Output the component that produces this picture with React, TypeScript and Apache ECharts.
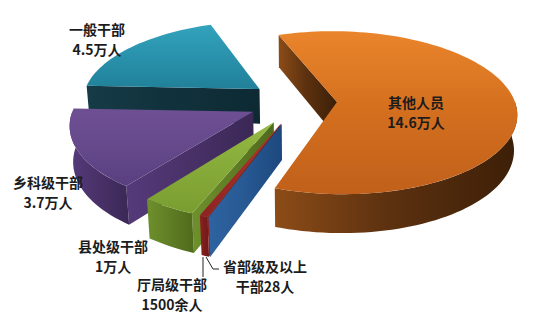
import React, { useEffect, useRef } from 'react';
import * as echarts from 'echarts';

// ---- data ----
const categories = ['其他人员', '省部级及以上干部', '厅局级干部', '县处级干部', '乡科级干部', '一般干部'];
const values = [14.6, 0.0028, 0.15, 1, 3.7, 4.5]; // 万人
const labelTexts = [
  '其他人员\n14.6万人',
  '省部级及以上\n干部28人',
  '厅局级干部\n1500余人',
  '县处级干部\n1万人',
  '乡科级干部\n3.7万人',
  '一般干部\n4.5万人',
];

// ---- styles / layout ----
const topColors = [
  ['#EA852C', '#D5701F', '#C0601A'],
  ['#2D66A3', '#2A5D98', '#1E4B82'],
  ['#B5332F', '#A42C29', '#8E2323'],
  ['#95B942', '#88AC3A', '#7A9D30'],
  ['#6E4F93', '#664A8C', '#5A3F80'],
  ['#33A3BD', '#2A93AD', '#21809A'],
];
const sideColors = [
  ['#8C4C17', '#5E3210', '#3C1F07'],
  ['#2E63A0', '#285A94', '#1D487E'],
  ['#8E2222', '#7E1D1D', '#6E1818'],
  ['#6E902C', '#617F25', '#4E6A1C'],
  ['#553A7A', '#4A3269', '#3B2856'],
  ['#163B47', '#11323D', '#0D2A33'],
];
const explode = [38, 50, 50, 50, 50, 50];
const labelPos = [
  [416, 112],
  [265, 276],
  [172, 294],
  [113, 256],
  [48, 192],
  [97, 39],
];
const leaderLines = [
  [[203, 257], [203, 277]],
  [[206, 257], [213, 269], [219, 269]],
];

const CX = 299;
const CY = 102;
const R = 178;
const H = 40;
const SIN_T = 0.45;
const COS_T = Math.sqrt(1 - SIN_T * SIN_T);
const DIST = 1200;
const START = 250;

const toRad = (d: number) => (d * Math.PI) / 180;

function proj(X: number, Y: number, Z: number): number[] {
  const yp = Y * SIN_T - Z * COS_T;
  const w = Y * COS_T + Z * SIN_T;
  const f = DIST / (DIST - w);
  return [CX + X * f, CY + yp * f];
}

function sliceAngles(i: number) {
  const total = values.reduce((a, b) => a + b, 0);
  let a0 = START;
  for (let j = 0; j < i; j++) a0 += (360 * values[j]) / total;
  const a1 = a0 + (360 * values[i]) / total;
  return [a0, a1];
}

function depthOf(i: number) {
  const [a0, a1] = sliceAngles(i);
  return Math.sin(toRad((a0 + a1) / 2));
}

const order = categories.map((_, i) => i).sort((a, b) => depthOf(a) - depthOf(b));

function grad(c: string[], horizontal: boolean) {
  return new echarts.graphic.LinearGradient(0, 0, horizontal ? 1 : 0, horizontal ? 0 : 1, [
    { offset: 0, color: c[0] },
    { offset: 0.45, color: c[1] },
    { offset: 1, color: c[2] },
  ]);
}

function renderItem(params: any, api: any) {
  const i = api.value(0);
  const [a0, a1] = sliceAngles(i);
  const mid = toRad((a0 + a1) / 2);
  const ox = explode[i] * Math.cos(mid);
  const oy = explode[i] * Math.sin(mid);
  const P = (deg: number, r: number, z: number) =>
    proj(ox + r * Math.cos(toRad(deg)), oy + r * Math.sin(toRad(deg)), z);
  const arc = (from: number, to: number, z: number) => {
    const n = Math.max(2, Math.ceil(Math.abs(to - from) / 2));
    const pts: number[][] = [];
    for (let k = 0; k <= n; k++) pts.push(P(from + ((to - from) * k) / n, R, z));
    return pts;
  };
  const children: any[] = [];
  const cut = (a: number) => ({
    type: 'polygon',
    shape: { points: [P(a, 0, 0), P(a, R, 0), P(a, R, -H), P(a, 0, -H)] },
    style: { fill: grad(sideColors[i], true) },
  });
  if (Math.sin(toRad(a0 - 90)) > 0) children.push(cut(a0));
  if (Math.sin(toRad(a1 + 90)) > 0) children.push(cut(a1));
  // front rim
  for (let k = -1; k <= 2; k++) {
    const lo = Math.max(a0, k * 360);
    const hi = Math.min(a1, k * 360 + 180);
    if (hi > lo) {
      const pts = arc(lo, hi, 0).concat(arc(hi, lo, -H));
      children.push({
        type: 'polygon',
        shape: { points: pts },
        style: { fill: grad(sideColors[i], true) },
      });
    }
  }
  // top face
  children.push({
    type: 'polygon',
    shape: { points: [P(a0, 0, 0)].concat(arc(a0, a1, 0)) },
    style: { fill: grad(topColors[i], false) },
  });
  return { type: 'group', children };
}

export default function App() {
  const ref = useRef<HTMLDivElement>(null);
  useEffect(() => {
    if (!ref.current) return;
    const chart = echarts.init(ref.current, null, { renderer: 'svg' });
    const graphics: any[] = [];
    labelTexts.forEach((t, i) => {
      graphics.push({
        type: 'text',
        x: labelPos[i][0],
        y: labelPos[i][1],
        z: 100,
        style: {
          text: t,
          align: 'center',
          verticalAlign: 'middle',
          fontFamily: '"Noto Sans CJK SC", sans-serif',
          fontSize: 14,
          fontWeight: 'bold',
          lineHeight: 20,
          fill: '#1c1c1c',
        },
      });
    });
    leaderLines.forEach((pts) => {
      graphics.push({
        type: 'polyline',
        z: 100,
        shape: { points: pts },
        style: { stroke: '#222', lineWidth: 1, fill: null },
      });
    });
    chart.setOption({
      animation: false,
      backgroundColor: '#ffffff',
      series: [
        {
          type: 'custom',
          coordinateSystem: 'none',
          renderItem,
          data: order.map((i) => [i, values[i]]),
        },
      ],
      graphic: graphics,
    });
    return () => chart.dispose();
  }, []);
  return (
    <div
      ref={ref}
      style={{ position: 'fixed', left: 0, top: 0, width: 550, height: 332 }}
    />
  );
}
